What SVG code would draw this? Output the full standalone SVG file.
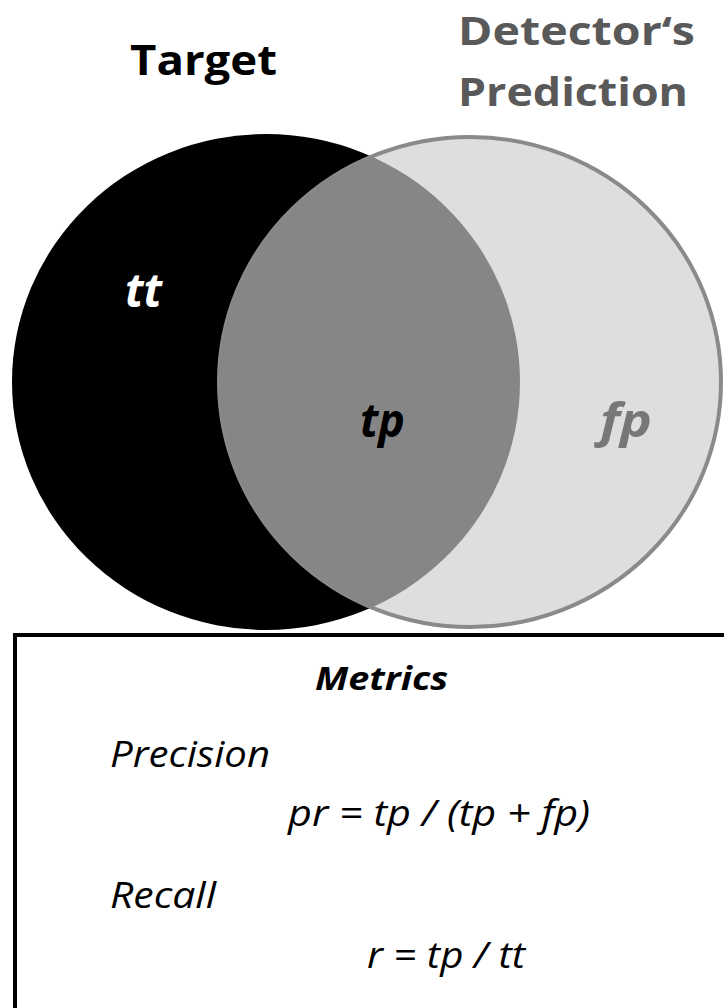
<svg xmlns="http://www.w3.org/2000/svg" width="724" height="1008" viewBox="0 0 724 1008">
  <style>
    .title { font-family: "Open Sans", "Liberation Sans", sans-serif; font-weight: bold; }
    .lbl { font-family: "Open Sans", "Liberation Sans", sans-serif; font-weight: bold; font-style: italic; }
    .met { font-family: "Open Sans", "Liberation Sans", sans-serif; font-style: italic; fill: #000; }
  </style>
  <defs>
    <clipPath id="targetClip">
      <ellipse cx="266" cy="382" rx="254" ry="248"/>
    </clipPath>
  </defs>
  <rect width="724" height="1008" fill="#fff"/>
  <g id="target">
    <ellipse cx="266" cy="382" rx="254" ry="248" fill="#000"/>
    <text class="title" x="130" y="75" font-size="42" fill="#000" textLength="147" lengthAdjust="spacingAndGlyphs">Target</text>
    <text class="lbl" x="125" y="307" font-size="46" fill="#fff" textLength="37" lengthAdjust="spacingAndGlyphs">tt</text>
  </g>
  <g id="prediction">
    <ellipse cx="470" cy="382" rx="251" ry="245" fill="#dedede" stroke="#8a8a8a" stroke-width="4"/>
    <text class="title" x="458" y="45" font-size="39" fill="#595959" textLength="237" lengthAdjust="spacingAndGlyphs">Detector‘s</text>
    <text class="title" x="458" y="106" font-size="39" fill="#595959" textLength="230" lengthAdjust="spacingAndGlyphs">Prediction</text>
    <text class="lbl" x="600" y="437" font-size="46" fill="#777" textLength="52" lengthAdjust="spacingAndGlyphs">fp</text>
  </g>
  <g id="overlap">
    <ellipse cx="470" cy="382" rx="251" ry="245" fill="#868686" clip-path="url(#targetClip)"/>
    <text class="lbl" x="360" y="437" font-size="46" fill="#000" textLength="45" lengthAdjust="spacingAndGlyphs">tp</text>
  </g>
  <g id="metrics">
    <rect x="15" y="635" width="720" height="390" fill="#fff" stroke="#000" stroke-width="4"/>
    <text class="lbl" x="315" y="690" font-size="32" fill="#000" textLength="133" lengthAdjust="spacingAndGlyphs">Metrics</text>
    <text class="met" x="110" y="767" font-size="36" textLength="160" lengthAdjust="spacingAndGlyphs">Precision</text>
    <text class="met" x="288" y="826" font-size="36" textLength="302" lengthAdjust="spacingAndGlyphs">pr = tp / (tp + fp)</text>
    <text class="met" x="110" y="908" font-size="36" textLength="106" lengthAdjust="spacingAndGlyphs">Recall</text>
    <text class="met" x="367" y="968" font-size="36" textLength="158" lengthAdjust="spacingAndGlyphs">r = tp / tt</text>
  </g>
  <g id="connectors"/>
</svg>
